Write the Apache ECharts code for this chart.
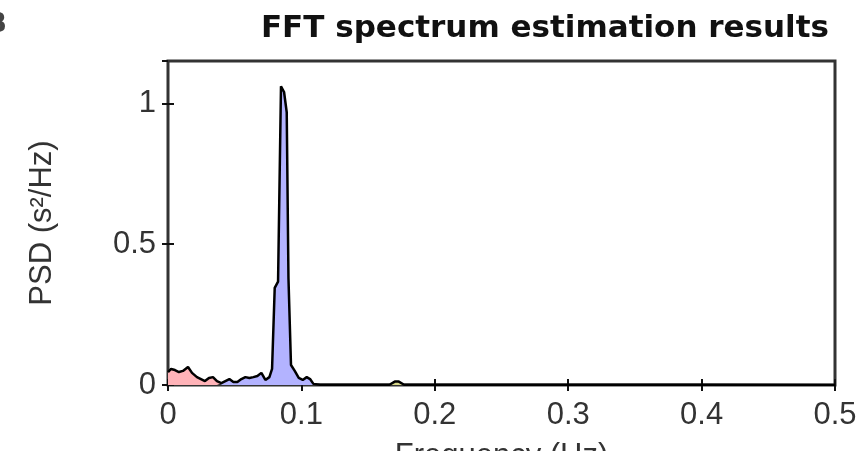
<!DOCTYPE html>
<html>
<head>
<meta charset="utf-8">
<script src="https://cdn.jsdelivr.net/npm/echarts@6/dist/echarts.min.js"></script>
<style>
  html, body { margin: 0; padding: 0; background: #fff; }
  #chart { width: 860px; height: 451px; }
</style>
</head>
<body>
<div id="chart"></div>
<script>
// frequency (Hz) and PSD (s^2/Hz)
var freqHz = [0.000, 0.0023, 0.0052, 0.0082, 0.0112, 0.0150, 0.0180, 0.0217, 0.0247, 0.0277,
              0.0307, 0.0337, 0.0367, 0.040, 0.043, 0.046, 0.049, 0.052, 0.055, 0.058,
              0.061, 0.064, 0.067, 0.070, 0.073, 0.076, 0.078, 0.080, 0.0825, 0.0847,
              0.087, 0.089, 0.0903, 0.0922, 0.095, 0.098, 0.101, 0.104, 0.1065, 0.109,
              0.114, 0.150, 0.166, 0.170, 0.173, 0.177, 0.400, 0.500];
var psd = [0.046, 0.057, 0.053, 0.046, 0.050, 0.064, 0.043, 0.028, 0.021, 0.014,
           0.025, 0.028, 0.014, 0.007, 0.014, 0.021, 0.011, 0.011, 0.021, 0.028,
           0.025, 0.028, 0.032, 0.043, 0.018, 0.028, 0.057, 0.345, 0.367, 1.060,
           1.040, 0.968, 0.380, 0.071, 0.050, 0.025, 0.018, 0.028, 0.021, 0.004,
           0.001, 0.001, 0.001, 0.012, 0.012, 0.001, 0.0005, 0.0003];

// frequency bands: VLF, LF, HF
var bandNames = ['VLF', 'LF', 'HF'];
var bandEdges = [[0, 0.04], [0.04, 0.15], [0.15, 0.4]];
var bandColors = ['#ffb3b8', '#b3b3ff', '#d8d88a'];

var xTicks = [0, 0.1, 0.2, 0.3, 0.4, 0.5];
var yTicks = [0, 0.5, 1];

var points = freqHz.map(function (f, i) { return [f, psd[i]]; });

var chart = echarts.init(document.getElementById('chart'));

var fillSeries = bandNames.map(function (name, b) {
    var lo = bandEdges[b][0], hi = bandEdges[b][1];
    return {
        name: name,
        type: 'line',
        data: points.filter(function (p) { return p[0] >= lo && p[0] <= hi; }),
        symbol: 'none',
        lineStyle: {width: 0},
        areaStyle: {color: bandColors[b], opacity: 1},
        silent: true,
        z: 1
    };
});

var labelFont = {fontFamily: 'Liberation Sans', fontSize: 31, color: '#333'};

chart.setOption({
    animation: false,
    title: {
        text: 'FFT spectrum estimation results',
        right: 26,
        top: 8,
        textStyle: {fontFamily: 'DejaVu Sans', fontWeight: 'bold', fontSize: 31, color: '#111'}
    },
    grid: {
        left: 168, right: 25, top: 61, bottom: 66,
        outerBoundsMode: 'none', containLabel: false,
        show: true, borderColor: '#333', borderWidth: 3
    },
    xAxis: [{
        type: 'value', min: 0, max: 0.5, interval: 0.1,
        name: 'Frequency (Hz)', nameLocation: 'middle', nameGap: 56,
        nameTextStyle: labelFont,
        axisLine: {show: false},
        axisTick: {inside: true, length: 6, lineStyle: {color: '#111', width: 2}},
        splitLine: {show: false},
        axisLabel: Object.assign({margin: 15, formatter: function (v) {
            return xTicks.indexOf(+v.toFixed(2)) >= 0 ? String(+v.toFixed(2)) : '';
        }}, labelFont)
    }, {
        type: 'value', position: 'top', min: 0, max: 0.5, interval: 0.1,
        axisLine: {show: false},
        axisTick: {inside: true, length: 6, lineStyle: {color: '#111', width: 2}},
        axisLabel: {show: false},
        splitLine: {show: false}
    }],
    yAxis: [{
        type: 'value', min: 0, max: 1.15, interval: 0.5,
        name: 'PSD (s²/Hz)', nameLocation: 'middle', nameGap: 110, nameRotate: 90,
        nameTextStyle: labelFont,
        axisLine: {show: false},
        axisTick: {inside: true, length: 6, lineStyle: {color: '#111', width: 2}},
        splitLine: {show: false},
        axisLabel: Object.assign({margin: 12, showMaxLabel: false, formatter: function (v) {
            return yTicks.indexOf(+v.toFixed(2)) >= 0 ? String(+v.toFixed(2)) : '';
        }}, labelFont)
    }, {
        type: 'value', position: 'right', min: 0, max: 1.15, interval: 0.5,
        axisLine: {show: false},
        axisTick: {inside: true, length: 6, lineStyle: {color: '#111', width: 2}},
        axisLabel: {show: false},
        splitLine: {show: false}
    }],
    series: fillSeries.concat([{
        name: 'PSD',
        type: 'line',
        data: points,
        symbol: 'none',
        lineStyle: {color: '#000', width: 2.5},
        z: 3
    }]),
    graphic: [{
        type: 'text', left: -13, top: 12,
        style: {text: 'B', fontFamily: 'DejaVu Sans', fontWeight: 'bold', fontSize: 26, fill: '#444'}
    }]
});
</script>
</body>
</html>
